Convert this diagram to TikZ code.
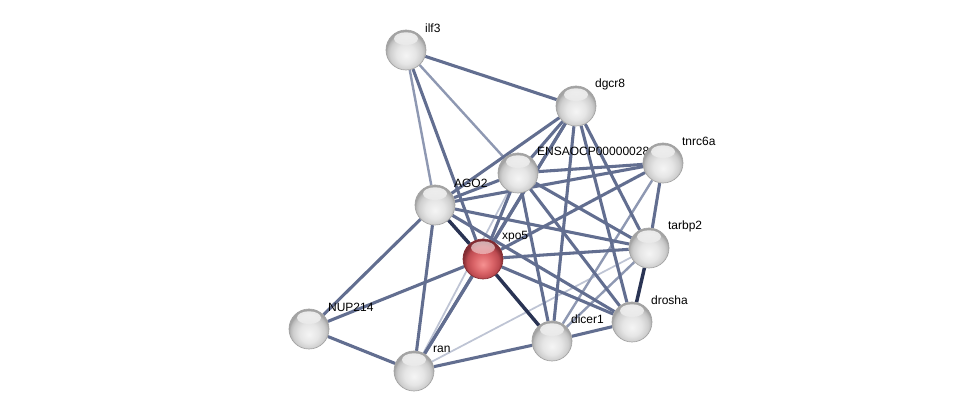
\documentclass[tikz,border=0pt]{standalone}
\usepackage{fontspec}
\setmainfont{Liberation Sans}
\usetikzlibrary{backgrounds}
\definecolor{eddark}{RGB}{42,52,84}
\definecolor{edmid}{RGB}{98,110,144}
\definecolor{edlight}{RGB}{142,152,178}
\definecolor{edvlight}{RGB}{190,196,212}
\definecolor{redin}{RGB}{246,145,145}
\definecolor{redmid}{RGB}{218,100,104}
\definecolor{redout}{RGB}{188,74,80}
\definecolor{redrim}{RGB}{130,44,50}
\pgfdeclareradialshading{gball}{\pgfpoint{0bp}{-7bp}}{color(0bp)=(gray!8); color(12bp)=(gray!20); color(20bp)=(gray!38); color(23.5bp)=(gray!55); color(25bp)=(gray!72); color(50bp)=(gray!72)}
\pgfdeclareradialshading{rball}{\pgfpoint{0bp}{-7bp}}{color(0bp)=(redin); color(12bp)=(redmid); color(20bp)=(redout); color(25bp)=(redrim); color(50bp)=(redrim)}
\tikzset{
  ball/.style={circle, inner sep=0pt, minimum size=30pt, shading=gball, draw=gray!72, line width=0.5pt,
    path picture={\shade[top color=white, bottom color=white!78!black, opacity=0.8] ([yshift=8.5pt]path picture bounding box.center) ellipse (9pt and 4.8pt);}},
  redball/.style={circle, inner sep=0pt, minimum size=30pt, shading=rball, draw=redrim, line width=0.5pt,
    path picture={\shade[top color=white, bottom color=redmid, opacity=0.65] ([yshift=8.5pt]path picture bounding box.center) ellipse (9pt and 4.8pt);}},
  lbl/.style={font=\fontsize{9pt}{10pt}\selectfont, text=black, inner sep=0pt, xshift=-1.1pt, yshift=16.5pt}
  ,edk/.style={line width=2.6pt, draw=eddark},
  edm/.style={line width=2.3pt, draw=edmid},
  edl/.style={line width=1.8pt, draw=edlight},
  edv/.style={line width=1.3pt, draw=edvlight}
}
\begin{document}
\begin{tikzpicture}[x=0.75pt, y=-0.75pt]
\useasboundingbox (0,0) rectangle (976,417);
\node[ball, label={[lbl]right:ilf3}] (ilf3) at (406,50) {};
\node[ball, label={[lbl]right:dgcr8}] (dgcr8) at (576,106) {};
\node[ball, label={[lbl]right:AGO2}] (ago2) at (435,205) {};
\node[ball, label={[lbl]right:ENSAOCP00000028}] (ens) at (518,173) {};
\node[ball, label={[lbl]right:tnrc6a}] (tnrc6a) at (663,163) {};
\node[ball, label={[lbl]right:tarbp2}] (tarbp2) at (649,248) {};
\node[redball, label={[lbl]right:xpo5}] (xpo5) at (483,259) {};
\node[ball, label={[lbl]right:drosha}] (drosha) at (632,322) {};
\node[ball, label={[lbl]right:dicer1}] (dicer1) at (552,341) {};
\node[ball, label={[lbl]right:NUP214}] (nup) at (309,329) {};
\node[ball, label={[lbl]right:ran}] (ran) at (414,371) {};
\begin{pgfonlayer}{background}
\fill[white] (0,0) rectangle (976,417);
% light edges
\draw[edv] (ran) -- (ens);
\draw[edv] (ran) -- (tarbp2);
\draw[edl] (ilf3) -- (ens);
\draw[edl] (ilf3) -- (ago2);
\draw[edl] (tnrc6a) -- (dicer1);
\draw[edl] (dicer1) -- (tarbp2);
% medium edges
\draw[edm] (ilf3) -- (dgcr8);
\draw[edm] (ilf3) -- (xpo5);
\draw[edm] (dgcr8) -- (ago2);
\draw[edm] (dgcr8) -- (ens);
\draw[edm] (dgcr8) -- (xpo5);
\draw[edm] (dgcr8) -- (dicer1);
\draw[edm] (dgcr8) -- (drosha);
\draw[edm] (dgcr8) -- (tarbp2);
\draw[edm] (ran) -- (dgcr8);
\draw[edm] (ens) -- (tnrc6a);
\draw[edm] (ago2) -- (tnrc6a);
\draw[edm] (xpo5) -- (tnrc6a);
\draw[edm] (ago2) -- (ens);
\draw[edm] (ago2) -- (tarbp2);
\draw[edm] (ago2) -- (drosha);
\draw[edm] (ago2) -- (nup);
\draw[edm] (ago2) -- (ran);
\draw[edm] (ens) -- (xpo5);
\draw[edm] (ens) -- (dicer1);
\draw[edm] (ens) -- (drosha);
\draw[edm] (ens) -- (tarbp2);
\draw[edm] (xpo5) -- (tarbp2);
\draw[edm] (xpo5) -- (drosha);
\draw[edm] (xpo5) -- (nup);
\draw[edm] (xpo5) -- (ran);
\draw[edm] (tnrc6a) -- (tarbp2);
\draw[edm] (dicer1) -- (drosha);
\draw[edm] (dicer1) -- (ran);
\draw[edm] (nup) -- (ran);
% dark edges
\draw[edk] (ago2) -- (xpo5);
\draw[edk] (xpo5) -- (dicer1);
\draw[edk] (tarbp2) -- (drosha);
\end{pgfonlayer}
\end{tikzpicture}
\end{document}
